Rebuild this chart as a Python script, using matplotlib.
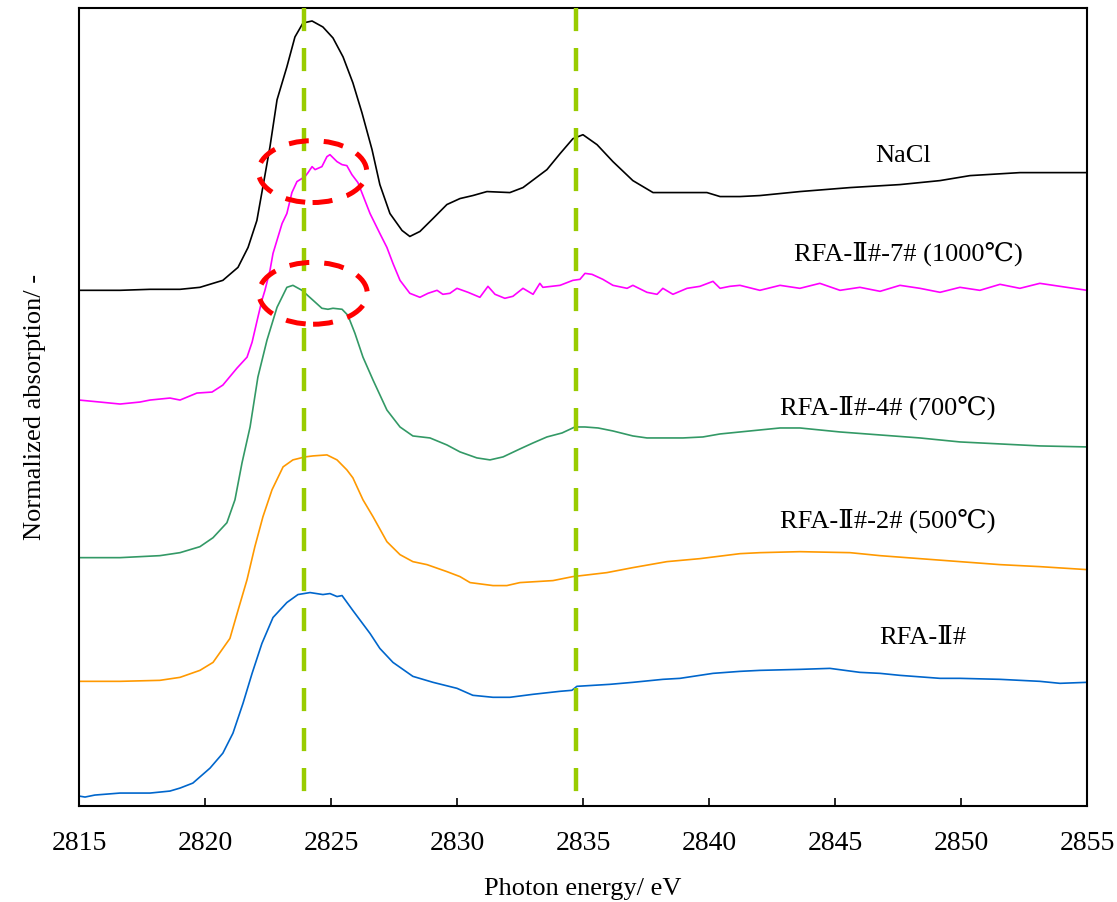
import numpy as np
import matplotlib
matplotlib.use("Agg")
import matplotlib.pyplot as plt
from matplotlib.patches import Ellipse

plt.rcParams['font.family'] = ['Liberation Serif', 'DejaVu Serif', 'Noto Sans CJK SC', 'DejaVu Sans']

# NaCl
e_nacl = [2815.0, 2816.63, 2817.82, 2819.01, 2819.8, 2820.71, 2821.31, 2821.71, 2822.06, 2822.3,
          2822.58, 2822.86, 2823.25, 2823.57, 2823.89, 2824.25, 2824.68, 2825.08, 2825.48, 2825.87,
          2826.23, 2826.63, 2826.94, 2827.34, 2827.82, 2828.13, 2828.53, 2829.05, 2829.6, 2830.12,
          2830.63, 2831.19, 2832.1, 2832.62, 2833.57, 2834.09, 2834.6, 2835.0, 2835.56, 2836.19,
          2836.98, 2837.78, 2839.92, 2840.44, 2841.23, 2842.02, 2843.61, 2845.6, 2847.58, 2849.17,
          2850.36, 2852.34, 2855.0]
y_nacl = [5.17, 5.17, 5.18, 5.18, 5.20, 5.27, 5.40, 5.60, 5.87, 6.21,
          6.61, 7.08, 7.41, 7.71, 7.85, 7.87, 7.81, 7.70, 7.51, 7.25,
          6.95, 6.58, 6.23, 5.94, 5.77, 5.71, 5.76, 5.89, 6.03, 6.09,
          6.12, 6.16, 6.15, 6.20, 6.38, 6.54, 6.69, 6.73, 6.63, 6.46,
          6.27, 6.15, 6.15, 6.11, 6.11, 6.12, 6.16, 6.20, 6.23, 6.27,
          6.32, 6.35, 6.35]

# RFA-II#-7# (1000 C)
e_s7 = [2815.0, 2815.83, 2816.63, 2817.42, 2817.82, 2818.61, 2819.01, 2819.68, 2820.28, 2820.71,
        2821.27, 2821.67, 2821.87, 2822.1, 2822.26, 2822.38, 2822.58, 2822.7, 2823.06, 2823.25,
        2823.45, 2823.65, 2823.97, 2824.09, 2824.25, 2824.37, 2824.64, 2824.84, 2824.96, 2825.24,
        2825.44, 2825.63, 2825.83, 2826.07, 2826.55, 2826.94, 2827.22, 2827.46, 2827.74, 2828.13,
        2828.53, 2828.85, 2829.21, 2829.44, 2829.72, 2830.0, 2830.44, 2830.91, 2831.23, 2831.51,
        2831.9, 2832.22, 2832.62, 2833.02, 2833.29, 2833.41, 2834.09, 2834.6, 2834.88, 2835.08,
        2835.36, 2835.79, 2836.19, 2836.75, 2836.98, 2837.54, 2837.94, 2838.17, 2838.57, 2839.13,
        2839.64, 2840.16, 2840.44, 2840.83, 2841.23, 2842.02, 2842.82, 2843.61, 2844.4, 2845.2,
        2845.99, 2846.79, 2847.58, 2848.37, 2849.17, 2849.96, 2850.75, 2851.55, 2852.34, 2853.13,
        2853.93, 2855.0]
y_s7 = [4.07, 4.05, 4.03, 4.05, 4.07, 4.09, 4.07, 4.14, 4.15, 4.22,
        4.39, 4.50, 4.65, 4.90, 5.07, 5.17, 5.37, 5.54, 5.84, 5.94,
        6.15, 6.26, 6.31, 6.35, 6.41, 6.38, 6.41, 6.51, 6.53, 6.46,
        6.43, 6.42, 6.33, 6.25, 5.94, 5.74, 5.60, 5.44, 5.27, 5.14,
        5.10, 5.14, 5.17, 5.13, 5.14, 5.19, 5.15, 5.10, 5.21, 5.13,
        5.09, 5.11, 5.19, 5.13, 5.24, 5.20, 5.22, 5.27, 5.28, 5.34,
        5.33, 5.28, 5.22, 5.19, 5.22, 5.15, 5.13, 5.19, 5.13, 5.19,
        5.21, 5.26, 5.19, 5.21, 5.22, 5.17, 5.22, 5.19, 5.24, 5.17,
        5.20, 5.16, 5.22, 5.19, 5.15, 5.20, 5.17, 5.23, 5.19, 5.24,
        5.21, 5.17]

# RFA-II#-4# (700 C)
e_s4 = [2815.0, 2816.63, 2818.21, 2819.01, 2819.8, 2820.32, 2820.87, 2821.19, 2821.47, 2821.79,
        2822.1, 2822.46, 2822.86, 2823.25, 2823.49, 2823.85, 2824.29, 2824.64, 2824.88, 2825.08,
        2825.44, 2825.67, 2825.95, 2826.27, 2826.67, 2827.22, 2827.74, 2828.25, 2828.93, 2829.6,
        2830.12, 2830.79, 2831.31, 2831.83, 2832.5, 2833.02, 2833.57, 2834.17, 2834.68, 2835.08,
        2835.6, 2836.19, 2836.98, 2837.54, 2838.97, 2839.76, 2840.44, 2841.23, 2842.02, 2842.82,
        2843.61, 2845.2, 2846.79, 2848.37, 2849.96, 2851.55, 2853.13, 2855.0]
y_s4 = [2.49, 2.49, 2.51, 2.54, 2.60, 2.69, 2.84, 3.07, 3.44, 3.80,
        4.30, 4.67, 5.00, 5.20, 5.22, 5.17, 5.07, 4.99, 4.98, 4.99,
        4.98, 4.92, 4.74, 4.50, 4.27, 3.97, 3.80, 3.71, 3.69, 3.62,
        3.55, 3.49, 3.47, 3.50, 3.58, 3.64, 3.70, 3.74, 3.80, 3.80,
        3.79, 3.76, 3.71, 3.69, 3.69, 3.70, 3.73, 3.75, 3.77, 3.79,
        3.79, 3.75, 3.72, 3.69, 3.65, 3.63, 3.61, 3.60]

# RFA-II#-2# (500 C)
e_s2 = [2815.0, 2816.63, 2818.21, 2819.01, 2819.8, 2820.32, 2820.99, 2821.31, 2821.67, 2821.98,
        2822.3, 2822.66, 2823.1, 2823.49, 2823.97, 2824.29, 2824.84, 2825.24, 2825.63, 2825.87,
        2826.27, 2826.67, 2827.22, 2827.74, 2828.25, 2828.81, 2829.6, 2830.12, 2830.52, 2831.43,
        2831.98, 2832.5, 2833.81, 2834.6, 2835.95, 2836.98, 2838.33, 2839.64, 2841.23, 2842.02,
        2843.61, 2845.6, 2846.79, 2848.37, 2849.96, 2851.55, 2853.13, 2855.0]
y_s2 = [1.25, 1.25, 1.26, 1.29, 1.36, 1.44, 1.68, 1.96, 2.27, 2.60,
        2.90, 3.17, 3.40, 3.47, 3.50, 3.51, 3.52, 3.47, 3.37, 3.29,
        3.07, 2.90, 2.65, 2.52, 2.45, 2.42, 2.35, 2.30, 2.24, 2.21,
        2.21, 2.24, 2.26, 2.30, 2.34, 2.39, 2.45, 2.48, 2.53, 2.54,
        2.55, 2.54, 2.51, 2.48, 2.45, 2.42, 2.40, 2.37]

# RFA-II#
e_s0 = [2815.0, 2815.24, 2815.63, 2816.63, 2817.82, 2818.61, 2819.01, 2819.52, 2820.2, 2820.71,
        2821.11, 2821.51, 2821.87, 2822.26, 2822.7, 2823.25, 2823.69, 2824.17, 2824.68, 2824.96,
        2825.24, 2825.44, 2825.87, 2826.55, 2826.94, 2827.46, 2828.25, 2829.05, 2830.0, 2830.63,
        2831.43, 2832.1, 2833.02, 2834.09, 2834.56, 2834.76, 2836.07, 2836.98, 2838.17, 2838.85,
        2840.16, 2841.23, 2842.02, 2843.61, 2844.8, 2845.99, 2846.79, 2847.58, 2849.17, 2849.96,
        2851.55, 2853.13, 2853.93, 2855.0]
y_s0 = [0.10, 0.09, 0.11, 0.13, 0.13, 0.15, 0.18, 0.23, 0.38, 0.53,
        0.73, 1.03, 1.33, 1.63, 1.89, 2.04, 2.12, 2.14, 2.12, 2.13,
        2.10, 2.11, 1.96, 1.73, 1.58, 1.44, 1.30, 1.24, 1.18, 1.11,
        1.09, 1.09, 1.12, 1.15, 1.16, 1.20, 1.22, 1.24, 1.27, 1.28,
        1.33, 1.35, 1.36, 1.37, 1.38, 1.34, 1.33, 1.31, 1.28, 1.28,
        1.27, 1.25, 1.23, 1.24]

labels = ['NaCl', 'RFA-Ⅱ#-7# (1000℃)', 'RFA-Ⅱ#-4# (700℃)', 'RFA-Ⅱ#-2# (500℃)', 'RFA-Ⅱ#']
label_x = [2847.7, 2847.9, 2847.1, 2847.1, 2848.5]
label_y = [6.52, 5.54, 3.99, 2.86, 1.68]
colors = ['black', '#ff00ff', '#339966', '#ff9900', '#0066cc']

peak_lines = [2823.93, 2834.74]
circle_x = [2824.27, 2824.29]
circle_y = [6.36, 5.14]

fig = plt.figure(figsize=(11.17, 9.02), dpi=100)
ax = fig.add_axes([0.0707, 0.1064, 0.9024, 0.8847])

series = [(e_nacl, y_nacl), (e_s7, y_s7), (e_s4, y_s4), (e_s2, y_s2), (e_s0, y_s0)]
for (e, y), c in zip(series, colors):
    ax.plot(e, y, color=c, lw=1.2)

# dashed guide lines drawn top-down so the dash pattern starts at the top spine
for x in peak_lines:
    ax.plot([x, x], [8, 0], color='#99cc00', lw=3.2, dashes=(5.2, 3.8), zorder=3)

for cx, cy in zip(circle_x, circle_y):
    ax.add_patch(Ellipse((cx, cy), 4.3, 0.62, fill=False, edgecolor='red',
                         lw=3.6, linestyle=(0, (4, 3)), zorder=4))

for lab, lx, ly in zip(labels, label_x, label_y):
    ax.text(lx, ly, lab, ha='center', va='center', fontsize=19)

ax.set_xlim(2815, 2855)
ax.set_ylim(0, 8)
ax.set_xticks(np.arange(2815, 2856, 5))
ax.set_yticks([])
ax.tick_params(axis='x', direction='in', length=6, width=1.2, labelsize=20, pad=18)
for s in ax.spines.values():
    s.set_linewidth(1.5)
ax.set_xlabel('Photon energy/ eV', fontsize=19, labelpad=16)
ax.set_ylabel('Normalized absorption/ -', fontsize=19, labelpad=24)

fig.savefig('out.png', dpi=100)
